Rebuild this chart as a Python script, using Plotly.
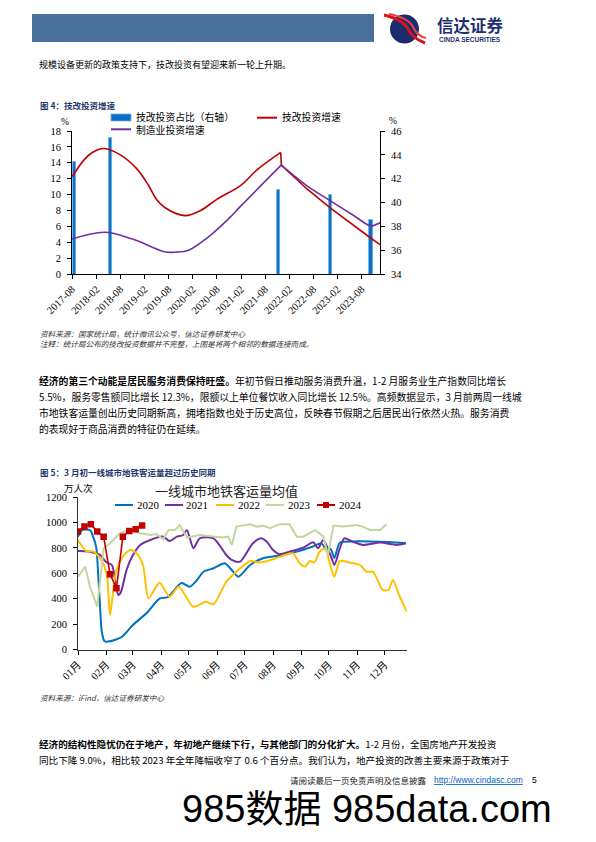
import plotly.graph_objects as go

W, H = 596, 842

# ---------------- Chart 1 data (图4) ----------------
share_dates = ["2017-08-16", "2018-05-16", "2021-11-10", "2022-12-10", "2023-10-13"]
share_vals = [43.4, 45.4, 41.05, 40.6, 38.5]          # 技改投资占比（右轴）

tech_dates_a = ["2017-08-01", "2017-11-01", "2018-01-01", "2018-04-01", "2018-08-01",
                "2018-12-01", "2019-03-01", "2019-05-01", "2019-07-01", "2019-12-01",
                "2020-04-01", "2020-08-01", "2021-02-01", "2021-06-01", "2021-11-28"]
tech_vals_a = [12.25, 14.4, 15.3, 15.8, 15.0, 13.3, 11.2, 9.4, 8.4, 7.35, 8.0, 9.4, 11.2, 13.1, 15.3]
tech_dates_b = ["2021-11-28", "2021-12-03", "2022-06-15", "2022-12-10", "2023-10-13", "2023-12-20"]
tech_vals_b = [15.3, 13.7, 10.7, 8.3, 4.5, 3.7]       # 技改投资增速

mfg_dates_a = ["2017-08-01", "2018-04-01", "2018-11-01", "2019-07-01", "2019-10-01",
               "2020-01-01", "2020-06-01", "2020-11-01", "2021-02-01", "2021-12-01"]
mfg_vals_a = [4.4, 5.25, 4.4, 2.8, 2.75, 3.0, 4.7, 7.0, 8.6, 13.7]
mfg_dates_b = ["2021-12-01", "2022-06-15", "2022-12-10", "2023-06-01", "2023-10-10", "2023-12-20"]
mfg_vals_b = [13.7, 11.1, 9.2, 7.4, 6.05, 6.45]       # 制造业投资增速

# ---------------- Chart 2 data (图5) ----------------
month_ticks = [0, 31, 60, 91, 121, 152, 182, 213, 244, 274, 305, 335]
month_labels = ["01月", "02月", "03月", "04月", "05月", "06月", "07月", "08月", "09月", "10月", "11月", "12月"]

d2020 = [0, 5, 13, 17, 20, 22, 24, 26, 29, 33, 40, 48, 60, 75, 89, 98, 113, 122, 130, 137,
         148, 160, 166, 175, 188, 202, 224, 239, 256, 266, 271, 276, 280, 286, 300, 319, 340, 358]
v2020 = [888, 941, 940, 878, 800, 600, 350, 140, 65, 62, 75, 100, 193, 287, 400, 413, 523, 494, 547, 612,
         639, 678, 642, 573, 665, 718, 744, 770, 809, 835, 785, 790, 720, 840, 850, 850, 845, 836]

d2021 = [0, 13, 24, 31, 37, 42, 44, 47, 53, 59, 68, 79, 93, 100, 108, 115, 119, 126, 133, 148,
         162, 168, 177, 191, 200, 206, 213, 220, 231, 246, 257, 262, 268, 277, 280, 286, 291, 300,
         311, 330, 348, 358]
v2021 = [775, 770, 744, 686, 665, 482, 429, 455, 626, 730, 823, 862, 888, 854, 888, 901, 941, 797, 875, 875,
         744, 705, 691, 836, 875, 849, 783, 750, 770, 801, 844, 796, 862, 718, 665, 796, 875, 849,
         823, 841, 823, 836]

d2022 = [0, 9, 17, 24, 29, 32, 35, 39, 42, 49, 57, 64, 71, 77, 89, 100, 110, 126, 140, 148,
         162, 173, 188, 198, 213, 226, 235, 242, 248, 253, 258, 264, 270, 275, 280, 286, 297, 308,
         315, 322, 333, 339, 344, 350, 359]
v2022 = [862, 775, 770, 718, 652, 560, 272, 500, 626, 730, 783, 757, 665, 403, 525, 416, 494, 337, 376, 356,
         534, 612, 697, 684, 710, 744, 757, 678, 652, 697, 684, 770, 796, 678, 573, 697, 684, 665,
         612, 612, 468, 468, 547, 442, 298]

d2023 = [0, 8, 13, 21, 28, 35, 46, 57, 68, 79, 86, 93, 99, 106, 111, 119, 133, 148, 158, 164,
         168, 173, 188, 195, 202, 210, 220, 231, 239, 246, 259, 268, 273, 279, 290, 304, 311, 319, 330, 337]
v2023 = [573, 652, 495, 337, 797, 836, 915, 941, 915, 901, 908, 868, 941, 941, 980, 881, 901, 888, 881, 888,
         823, 967, 986, 967, 973, 954, 986, 986, 888, 888, 941, 888, 744, 975, 967, 980, 967, 941, 941, 986]

d2024 = [0, 7, 14, 21, 28, 35, 42, 49, 56, 63, 70]
v2024 = [928, 967, 986, 928, 888, 592, 482, 888, 933, 946, 975]

series2 = [("2020", d2020, v2020, "#0070c0", "spline"),
           ("2021", d2021, v2021, "#7030a0", "spline"),
           ("2022", d2022, v2022, "#ffc000", "spline"),
           ("2023", d2023, v2023, "#c3d69b", "linear")]

# ---------------- helpers ----------------
CJK = "Noto Sans CJK SC"
SERIF = "Liberation Serif, Noto Sans CJK SC"
SANS = "Liberation Sans, Noto Sans CJK SC"
NAVY = "#1f3a6e"
OFF = 8  # page body margin in which the figure sits


def X(px):
    return (px - OFF) / W


def Y(py):
    return 1 - (py - OFF) / H


annotations = []
shapes = []


def ann(text, px, py, size, color="#000", family=CJK, xanchor="left", yanchor="middle"):
    annotations.append(dict(text=text, x=X(px), y=Y(py), xref="paper", yref="paper",
                            showarrow=False, xanchor=xanchor, yanchor=yanchor,
                            font=dict(size=size, color=color, family=family)))


def line(x0, y0, x1, y1, color, width):
    shapes.append(dict(type="line", xref="paper", yref="paper", x0=X(x0), y0=Y(y0), x1=X(x1), y1=Y(y1),
                       line=dict(color=color, width=width)))


fig = go.Figure()

# ---- chart 1 traces ----
fig.add_trace(go.Bar(x=share_dates, y=share_vals, xaxis="x", yaxis="y", width=24 * 86400000,
                     marker=dict(color="#0a6fc2", line=dict(color="#6aaee3", width=0.8)),
                     name="技改投资占比（右轴）", showlegend=False))
fig.add_trace(go.Scatter(x=tech_dates_a, y=tech_vals_a, xaxis="x", yaxis="y2", mode="lines",
                         line=dict(color="#c00000", width=1.6, shape="spline", smoothing=1.0),
                         name="技改投资增速", showlegend=False))
fig.add_trace(go.Scatter(x=tech_dates_b, y=tech_vals_b, xaxis="x", yaxis="y2", mode="lines",
                         line=dict(color="#c00000", width=1.6), showlegend=False))
fig.add_trace(go.Scatter(x=mfg_dates_a, y=mfg_vals_a, xaxis="x", yaxis="y2", mode="lines",
                         line=dict(color="#7030a0", width=1.6, shape="spline", smoothing=1.0),
                         name="制造业投资增速", showlegend=False))
fig.add_trace(go.Scatter(x=mfg_dates_b, y=mfg_vals_b, xaxis="x", yaxis="y2", mode="lines",
                         line=dict(color="#7030a0", width=1.6, shape="spline", smoothing=0.8),
                         showlegend=False))

# ---- chart 2 traces ----
for name, d, v, col, shp in series2:
    fig.add_trace(go.Scatter(x=d, y=v, xaxis="x2", yaxis="y3", mode="lines", name=name,
                             line=dict(color=col, width=2, shape=shp, smoothing=0.7),
                             showlegend=False))
fig.add_trace(go.Scatter(x=d2024, y=v2024, xaxis="x2", yaxis="y3", mode="lines+markers", name="2024",
                         line=dict(color="#c00000", width=1.6),
                         marker=dict(symbol="square", size=6.5, color="#c00000"),
                         showlegend=False))

axis_common = dict(showgrid=False, zeroline=False, showline=True, linecolor="#000", linewidth=1,
                   ticks="outside", ticklen=4, tickcolor="#000", tickwidth=1, automargin=False,
                   tickfont=dict(family=SERIF, size=10.5, color="#000"))

fig.update_layout(
    template="none",
    width=W, height=H, autosize=False,
    margin=dict(l=0, r=0, t=0, b=0, pad=0, autoexpand=False),
    paper_bgcolor="white", plot_bgcolor="white",
    showlegend=False,
    bargap=0,
    xaxis=dict(domain=[X(72), X(380)], type="date", range=["2017-07-31", "2023-12-20"],
               tick0="2017-08-01", dtick="M6", tickformat="%Y-%m", tickangle=-45,
               anchor="y", **axis_common),
    yaxis=dict(domain=[Y(274), Y(131)], range=[34, 46], dtick=2, side="right", anchor="x",
               ticklabelstandoff=4, **axis_common),
    yaxis2=dict(range=[0, 18], dtick=2, side="left", overlaying="y", anchor="x",
                ticklabelstandoff=4, **axis_common),
    xaxis2=dict(domain=[X(78), X(406.7)], range=[0, 359], tickmode="array", tickvals=month_ticks,
                ticktext=month_labels, tickangle=-45, anchor="y3",
                **{**axis_common, "linecolor": "#333"}),
    yaxis3=dict(domain=[Y(649.5), Y(497)], range=[0, 1200], dtick=200, anchor="x2",
                ticklabelstandoff=4, **{**axis_common, "linecolor": "#333"}),
)

# ---- header ----
shapes.append(dict(type="rect", xref="paper", yref="paper", x0=X(32), x1=X(374), y0=Y(42), y1=Y(14),
                   fillcolor="#4a6f9a", line=dict(width=0)))
shapes.append(dict(type="circle", xref="paper", yref="paper", x0=X(390), x1=X(419), y0=Y(43.5), y1=Y(14.5),
                   fillcolor="#1d2c6e", line=dict(width=0)))
shapes.append(dict(type="path", xref="paper", yref="paper",
                   path=f"M {X(384)},{Y(15)} Q {X(404)},{Y(20)} {X(408)},{Y(29)} Q {X(412)},{Y(38)} {X(425)},{Y(43)}",
                   line=dict(color="#d7141a", width=3)))
shapes.append(dict(type="path", xref="paper", yref="paper",
                   path=f"M {X(389)},{Y(14)} Q {X(409)},{Y(18)} {X(413)},{Y(27)} Q {X(417)},{Y(36)} {X(426)},{Y(38)}",
                   line=dict(color="#e8434a", width=2)))
ann("<b>信达证券</b>", 470, 24.5, 16.5, color="#1e2f72", xanchor="center")
ann("<b>CINDA SECURITIES</b>", 470, 39.5, 6.5, color="#1e2f72", family=SANS, xanchor="center")

ann("规模设备更新的政策支持下，技改投资有望迎来新一轮上升期。", 37, 64, 9)

# ---- chart 1 texts ----
ann("<b>图 4：技改投资增速</b>", 38, 105, 8.5, color=NAVY)
ann("%", 65, 122, 9.5, family=SERIF, xanchor="center")
ann("%", 393, 121, 9.5, family=SERIF, xanchor="center")
shapes.append(dict(type="rect", xref="paper", yref="paper", x0=X(111), x1=X(131), y0=Y(121), y1=Y(114),
                   fillcolor="#0a6fc2", line=dict(color="#6aaee3", width=0.8)))
ann("技改投资占比（右轴）", 134, 117.2, 9.8)
line(257, 117.7, 277, 117.7, "#c00000", 2)
ann("技改投资增速", 280, 117.2, 9.8)
line(111, 129.3, 131, 129.3, "#7030a0", 2)
ann("制造业投资增速", 134, 129.8, 9.8)
ann("<i>资料来源：国家统计局，统计微讯公众号，信达证券研发中心</i>", 38, 333, 7.6, color="#333")
ann("<i>注释：统计局公布的技改投资数据并不完整，上图是将两个相邻的数据连接而成。</i>", 38, 343, 7.6, color="#333")

# ---- paragraph 1 ----
p1 = ["<b>经济的第三个动能是居民服务消费保持旺盛。</b>年初节假日推动服务消费升温，1-2 月服务业生产指数同比增长",
      "5.5%，服务零售额同比增长 12.3%，限额以上单位餐饮收入同比增长 12.5%。高频数据显示，3 月前两周一线城",
      "市地铁客运量创出历史同期新高，拥堵指数也处于历史高位，反映春节假期之后居民出行依然火热。服务消费",
      "的表现好于商品消费的特征仍在延续。"]
for i, t in enumerate(p1):
    ann(t, 37, 381 + i * 16, 9.8)

# ---- chart 2 texts ----
ann("<b>图 5：3 月初一线城市地铁客运量超过历史同期</b>", 38, 472, 8.5, color=NAVY)
ann("万人次", 62, 488, 9.5)
ann("一线城市地铁客运量均值", 226, 490, 13, color="#222", xanchor="center")
leg2 = [("2020", 115, "#0070c0"), ("2021", 165, "#7030a0"), ("2022", 216, "#ffc000"),
        ("2023", 266, "#c3d69b"), ("2024", 317, "#c00000")]
for name, lx, col in leg2:
    line(lx, 505, lx + 18, 505, col, 2)
    ann(name, lx + 19.5, 505, 11, family=SERIF)
shapes.append(dict(type="rect", xref="paper", yref="paper", x0=X(323), x1=X(329), y0=Y(508), y1=Y(502),
                   fillcolor="#c00000", line=dict(width=0)))
ann("<i>资料来源：iFind，信达证券研发中心</i>", 38, 697, 7.6, color="#333")

# ---- paragraph 2 ----
p2 = ["<b>经济的结构性隐忧仍在于地产，年初地产继续下行，与其他部门的分化扩大。</b>1-2 月份，全国房地产开发投资",
      "同比下降 9.0%，相比较 2023 年全年降幅收窄了 0.6 个百分点。我们认为，地产投资的改善主要来源于政策对于"]
for i, t in enumerate(p2):
    ann(t, 37, 743.5 + i * 16, 9.6)

# ---- footer ----
ann("请阅读最后一页免责声明及信息披露", 429, 779.5, 8.5, color="#222", xanchor="right")
ann("<u>http://www.cindasc.com</u>", 431.5, 779.5, 8.5, color="#0563c1", family=SANS)
ann("5", 530, 779.5, 8.5, family=SANS)
ann("985数据 985data.com", 180, 809, 38, family=SANS, xanchor="left")

fig.update_layout(annotations=annotations, shapes=shapes)
fig.write_html("out.html")
